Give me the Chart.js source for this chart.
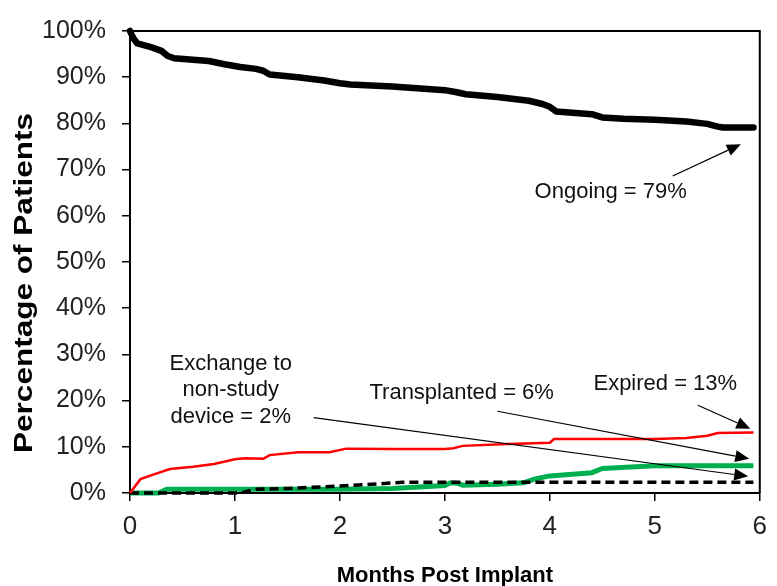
<!DOCTYPE html>
<html>
<head>
<meta charset="utf-8">
<script src="https://cdn.jsdelivr.net/npm/chart.js@4"></script>
<style>
  html, body { margin: 0; padding: 0; background: #fff; }
  #wrap { width: 777px; height: 586px; }
</style>
</head>
<body>
<div id="wrap"><canvas id="c" width="777" height="586"></canvas></div>
<script>
// ---- Data ----
const ongoingMonths = [0, 0.03, 0.07, 0.2, 0.3, 0.36, 0.42, 0.75, 0.9, 1.05, 1.2, 1.27, 1.33, 1.6, 1.85, 2.0, 2.1, 2.5, 3.0, 3.1, 3.2, 3.5, 3.8, 3.93, 4.0, 4.06, 4.4, 4.5, 4.7, 5.0, 5.3, 5.5, 5.6, 5.65, 5.94];
const ongoingPct    = [100, 98.5, 97.3, 96.5, 95.7, 94.6, 94.1, 93.5, 92.8, 92.2, 91.8, 91.4, 90.6, 90.0, 89.3, 88.7, 88.4, 88.0, 87.2, 86.8, 86.3, 85.7, 84.9, 84.2, 83.6, 82.6, 82.0, 81.3, 81.0, 80.8, 80.4, 79.9, 79.3, 79.1, 79.1];

const expiredMonths = [0, 0.05, 0.1, 0.2, 0.38, 0.6, 0.8, 1.0, 1.1, 1.27, 1.33, 1.6, 1.9, 2.06, 2.5, 3.0, 3.08, 3.17, 3.6, 4.0, 4.04, 5.0, 5.3, 5.5, 5.6, 5.94];
const expiredPct    = [0, 1.5, 3.0, 3.8, 5.2, 5.7, 6.3, 7.3, 7.5, 7.4, 8.2, 8.8, 8.8, 9.6, 9.5, 9.5, 9.7, 10.2, 10.6, 10.9, 11.7, 11.7, 11.9, 12.4, 13.0, 13.1];

const transplantMonths = [0, 0.27, 0.35, 1.0, 2.0, 2.5, 3.0, 3.05, 3.12, 3.17, 3.5, 3.75, 3.85, 4.0, 4.4, 4.5, 5.0, 5.94];
const transplantPct    = [0, 0, 0.8, 0.8, 0.8, 1.0, 1.6, 2.2, 2.1, 1.7, 1.9, 2.2, 3.0, 3.7, 4.4, 5.3, 5.9, 5.9];

const exchangeMonths = [0, 1.05, 1.2, 1.5, 2.0, 2.3, 2.6, 5.94];
const exchangePct    = [0, 0, 0.8, 1.0, 1.5, 1.9, 2.3, 2.3];

const xTicks = [0, 1, 2, 3, 4, 5, 6];
const yTicks = [0, 10, 20, 30, 40, 50, 60, 70, 80, 90, 100];

const xTitle = "Months Post Implant";
const yTitle = "Percentage of Patients";

// annotation texts and their anchor/arrow points in data units (months, %)
const noteLines   = [["Ongoing = 79%"], ["Expired = 13%"], ["Transplanted = 6%"], ["Exchange to", "non-study", "device = 2%"]];
const noteAnchor  = [[4.58, 65.1], [5.1, 23.5], [3.16, 21.6], [0.96, 22.3]];
const arrowFrom   = [[5.17, 68.6], [5.41, 19.0], [3.5, 17.7], [1.75, 16.3]];
const arrowTo     = [[5.82, 75.5], [5.91, 13.9], [5.9, 7.4], [5.89, 3.6]];

const toPts = (xs, ys) => xs.map((x, i) => ({ x: x, y: ys[i] }));

const FONT = "'Liberation Sans', Arial, sans-serif";

const frame = {
  id: 'frame',
  afterDraw(chart) {
    const { ctx, chartArea: a, scales } = chart;
    ctx.save();
    // top and right border of the plot box
    ctx.strokeStyle = '#000';
    ctx.lineWidth = 2;
    ctx.beginPath();
    ctx.moveTo(a.left, a.top);
    ctx.lineTo(a.right, a.top);
    ctx.lineTo(a.right, a.bottom);
    ctx.stroke();

    // annotations
    const xs = scales.x, ys = scales.y;
    ctx.fillStyle = '#111';
    ctx.font = "22px " + FONT;
    ctx.textAlign = 'center';
    ctx.textBaseline = 'middle';
    noteLines.forEach((lines, i) => {
      const cx = xs.getPixelForValue(noteAnchor[i][0]);
      const cy = ys.getPixelForValue(noteAnchor[i][1]);
      const lh = 26.5;
      const y0 = cy - (lines.length - 1) * lh / 2;
      lines.forEach((t, j) => ctx.fillText(t, cx, y0 + j * lh));

      const x1 = xs.getPixelForValue(arrowFrom[i][0]), y1 = ys.getPixelForValue(arrowFrom[i][1]);
      const x2 = xs.getPixelForValue(arrowTo[i][0]), y2 = ys.getPixelForValue(arrowTo[i][1]);
      const ang = Math.atan2(y2 - y1, x2 - x1);
      const hl = 14, hw = 6;
      const bx = x2 - hl * Math.cos(ang), by = y2 - hl * Math.sin(ang);
      ctx.strokeStyle = '#000';
      ctx.fillStyle = '#000';
      ctx.lineWidth = 1.2;
      ctx.beginPath();
      ctx.moveTo(x1, y1);
      ctx.lineTo(bx, by);
      ctx.stroke();
      ctx.beginPath();
      ctx.moveTo(x2, y2);
      ctx.lineTo(bx + hw * Math.sin(ang), by - hw * Math.cos(ang));
      ctx.lineTo(bx - hw * Math.sin(ang), by + hw * Math.cos(ang));
      ctx.closePath();
      ctx.fill();
      ctx.fillStyle = '#111';
    });

    // y axis title
    ctx.fillStyle = '#000';
    ctx.translate(25, 283);
    ctx.rotate(-Math.PI / 2);
    ctx.font = "bold 26px " + FONT;
    const w = ctx.measureText(yTitle).width;
    ctx.scale(340 / w, 1);
    ctx.fillText(yTitle, 0, 0);
    ctx.restore();
  }
};

// Chart.js draws dataset 0 on top, so list them top-most first
new Chart(document.getElementById('c'), {
  type: 'line',
  data: {
    datasets: [
      { label: 'Ongoing', data: toPts(ongoingMonths, ongoingPct), borderColor: '#000', borderWidth: 6.5, pointRadius: 0, clip: false, borderCapStyle: 'round', borderJoinStyle: 'round' },
      { label: 'Expired', data: toPts(expiredMonths, expiredPct), borderColor: '#ff0000', borderWidth: 2.5, pointRadius: 0, clip: false },
      { label: 'Exchange to non-study device', data: toPts(exchangeMonths, exchangePct), borderColor: '#000', borderWidth: 3.5, borderDash: [9, 5], pointRadius: 0, clip: false },
      { label: 'Transplanted', data: toPts(transplantMonths, transplantPct), borderColor: '#00b050', borderWidth: 5, pointRadius: 0, clip: false }
    ]
  },
  options: {
    responsive: false,
    animation: false,
    events: [],
    layout: { padding: { top: 22, right: 17, left: 0, bottom: 0 } },
    plugins: { legend: { display: false }, tooltip: { enabled: false } },
    scales: {
      x: {
        type: 'linear', min: 0, max: 6,
        afterBuildTicks: s => { s.ticks = xTicks.map(v => ({ value: v })); },
        afterFit: s => { s.height = 93; },
        grid: { display: true, drawOnChartArea: false, drawTicks: true, tickLength: 8, color: '#000', lineWidth: 1.5 },
        border: { display: true, color: '#000', width: 2 },
        ticks: { color: '#222', font: { family: FONT, size: 26 }, padding: 10, maxRotation: 0 },
        title: { display: true, text: xTitle, color: '#000', font: { family: FONT, size: 22, weight: 'bold' }, padding: { top: 0, bottom: -3 } }
      },
      y: {
        type: 'linear', min: 0, max: 100,
        afterBuildTicks: s => { s.ticks = yTicks.map(v => ({ value: v })); },
        afterFit: s => { s.width = 130; },
        grid: { display: true, drawOnChartArea: false, drawTicks: true, tickLength: 8, color: '#000', lineWidth: 1.5 },
        border: { display: true, color: '#000', width: 2 },
        ticks: { color: '#222', font: { family: FONT, size: 25 }, padding: 16, callback: v => v + '%' }
      }
    }
  },
  plugins: [frame]
});
</script>
</body>
</html>
